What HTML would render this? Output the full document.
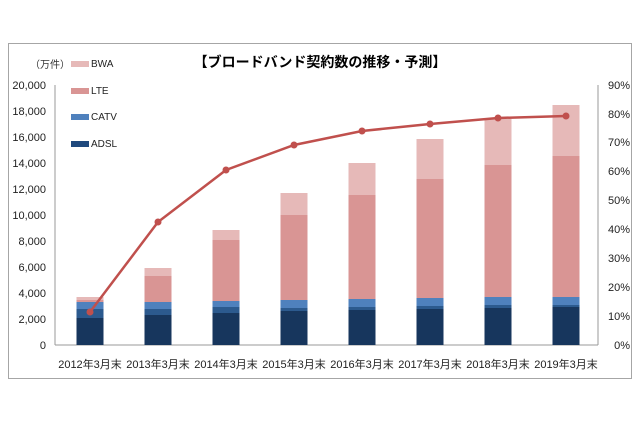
<html><body style="margin:0;background:#fff">
<svg width="640" height="426" font-family="Liberation Sans, Noto Sans CJK JP, sans-serif">
<rect x="8.5" y="43.5" width="623" height="335" fill="#fff" stroke="#a6a6a6"/>
<text x="320" y="67" font-size="14" font-weight="bold" text-anchor="middle" font-family="Noto Sans CJK JP, sans-serif">【ブロードバンド契約数の推移・予測】</text>
<text x="30" y="68" font-size="10" fill="#333" font-family="Noto Sans CJK JP, sans-serif">（万件）</text>
<g font-size="10" fill="#222">
<rect x="71" y="61" width="18" height="6" fill="#e6b9b8"/><text x="91" y="67">BWA</text>
<rect x="71" y="88" width="18" height="6" fill="#d99594"/><text x="91" y="94">LTE</text>
<rect x="71" y="114" width="18" height="6" fill="#4f81bd"/><text x="91" y="120">CATV</text>
<rect x="71" y="141" width="18" height="6" fill="#1f497d"/><text x="91" y="147">ADSL</text>
</g>
<g stroke="#999" fill="none">
<line x1="55" y1="85" x2="55" y2="345"/><line x1="598" y1="85" x2="598" y2="345"/>
<line x1="55" y1="345" x2="598" y2="345"/>
</g>
<g font-size="11" fill="#222" text-anchor="end">
<text x="46" y="349">0</text><text x="46" y="323">2,000</text><text x="46" y="297">4,000</text><text x="46" y="271">6,000</text><text x="46" y="245">8,000</text><text x="46" y="219">10,000</text><text x="46" y="193">12,000</text><text x="46" y="167">14,000</text><text x="46" y="141">16,000</text><text x="46" y="115">18,000</text><text x="46" y="89">20,000</text>
</g>
<g font-size="11" fill="#222" text-anchor="end">
<text x="630" y="349">0%</text><text x="630" y="320">10%</text><text x="630" y="291">20%</text><text x="630" y="262">30%</text><text x="630" y="233">40%</text><text x="630" y="204">50%</text><text x="630" y="175">60%</text><text x="630" y="146">70%</text><text x="630" y="118">80%</text><text x="630" y="89">90%</text>
</g>
<g>
<rect x="76.5" y="318" width="27" height="27" fill="#17365d"/><rect x="76.5" y="309" width="27" height="9" fill="#2c5a8e"/><rect x="76.5" y="302" width="27" height="7" fill="#4f81bd"/><rect x="76.5" y="300" width="27" height="2" fill="#d99594"/><rect x="76.5" y="297" width="27" height="3" fill="#e6b9b8"/>
<rect x="144.5" y="315" width="27" height="30" fill="#17365d"/><rect x="144.5" y="309" width="27" height="6" fill="#2c5a8e"/><rect x="144.5" y="302" width="27" height="7" fill="#4f81bd"/><rect x="144.5" y="276" width="27" height="26" fill="#d99594"/><rect x="144.5" y="268" width="27" height="8" fill="#e6b9b8"/>
<rect x="212.5" y="313" width="27" height="32" fill="#17365d"/><rect x="212.5" y="307" width="27" height="6" fill="#2c5a8e"/><rect x="212.5" y="301" width="27" height="6" fill="#4f81bd"/><rect x="212.5" y="240" width="27" height="61" fill="#d99594"/><rect x="212.5" y="230" width="27" height="10" fill="#e6b9b8"/>
<rect x="280.5" y="311" width="27" height="34" fill="#17365d"/><rect x="280.5" y="308" width="27" height="3" fill="#2c5a8e"/><rect x="280.5" y="300" width="27" height="8" fill="#4f81bd"/><rect x="280.5" y="215" width="27" height="85" fill="#d99594"/><rect x="280.5" y="193" width="27" height="22" fill="#e6b9b8"/>
<rect x="348.5" y="310" width="27" height="35" fill="#17365d"/><rect x="348.5" y="307" width="27" height="3" fill="#2c5a8e"/><rect x="348.5" y="299" width="27" height="8" fill="#4f81bd"/><rect x="348.5" y="195" width="27" height="104" fill="#d99594"/><rect x="348.5" y="163" width="27" height="32" fill="#e6b9b8"/>
<rect x="416.5" y="309" width="27" height="36" fill="#17365d"/><rect x="416.5" y="306" width="27" height="3" fill="#2c5a8e"/><rect x="416.5" y="298" width="27" height="8" fill="#4f81bd"/><rect x="416.5" y="179" width="27" height="119" fill="#d99594"/><rect x="416.5" y="139" width="27" height="40" fill="#e6b9b8"/>
<rect x="484.5" y="308" width="27" height="37" fill="#17365d"/><rect x="484.5" y="305" width="27" height="3" fill="#2c5a8e"/><rect x="484.5" y="297" width="27" height="8" fill="#4f81bd"/><rect x="484.5" y="165" width="27" height="132" fill="#d99594"/><rect x="484.5" y="119" width="27" height="46" fill="#e6b9b8"/>
<rect x="552.5" y="307" width="27" height="38" fill="#17365d"/><rect x="552.5" y="305" width="27" height="2" fill="#2c5a8e"/><rect x="552.5" y="297" width="27" height="8" fill="#4f81bd"/><rect x="552.5" y="156" width="27" height="141" fill="#d99594"/><rect x="552.5" y="105" width="27" height="51" fill="#e6b9b8"/>
</g>
<g font-size="11" fill="#222" text-anchor="middle">
<text x="90" y="368">2012年3月末</text><text x="158" y="368">2013年3月末</text><text x="226" y="368">2014年3月末</text><text x="294" y="368">2015年3月末</text><text x="362" y="368">2016年3月末</text><text x="430" y="368">2017年3月末</text><text x="498" y="368">2018年3月末</text><text x="566" y="368">2019年3月末</text>
</g>
<polyline points="90,312 158,222 226,170 294,145 362,131 430,124 498,118 566,116" fill="none" stroke="#c0504d" stroke-width="2.5"/>
<g fill="#c0504d"><circle cx="90" cy="312" r="3.5"/><circle cx="158" cy="222" r="3.5"/><circle cx="226" cy="170" r="3.5"/><circle cx="294" cy="145" r="3.5"/><circle cx="362" cy="131" r="3.5"/><circle cx="430" cy="124" r="3.5"/><circle cx="498" cy="118" r="3.5"/><circle cx="566" cy="116" r="3.5"/></g>
</svg>
</body></html>
